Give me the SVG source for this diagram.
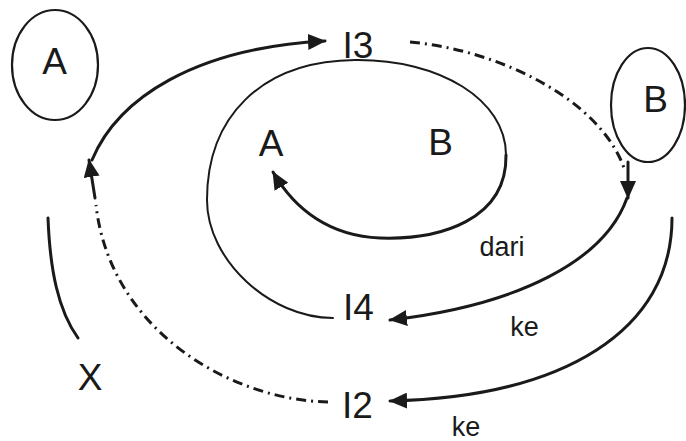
<svg xmlns="http://www.w3.org/2000/svg" width="686" height="441" viewBox="0 0 686 441">
<style>
.t{font-family:"Liberation Sans","DejaVu Sans",sans-serif;fill:#1a1a1a;text-anchor:middle}
.big{font-size:37px}
.sm{font-size:27px}
.ln{fill:none;stroke:#1a1a1a;stroke-linecap:round}
.thin{stroke-width:2}
.thick{stroke-width:3}
.dd{stroke-width:3;stroke-dasharray:10 5 2 5;stroke-linecap:butt}
.node{fill:none;stroke:#1a1a1a;stroke-width:2.2}
</style>
<defs>
<marker id="ah" viewBox="0 0 18 16" refX="17" refY="8" markerWidth="18" markerHeight="16" markerUnits="userSpaceOnUse" orient="auto">
<path d="M0,0 L18,8 L0,16 Z" fill="#1a1a1a"/>
</marker>
</defs>
<rect width="686" height="441" fill="#fff"/>
<g id="nodeA">
<ellipse class="node" cx="55" cy="65" rx="43" ry="55"/>
<text class="t big" x="54.5" y="74">A</text>
</g>
<g id="nodeB">
<ellipse class="node" cx="648" cy="105" rx="37" ry="57"/>
<text class="t big" x="655.5" y="112">B</text>
</g>
<g id="nodeI3"><text class="t big" x="358" y="58">I3</text></g>
<g id="nodeI4"><text class="t big" x="358.5" y="320">I4</text></g>
<g id="nodeI2"><text class="t big" x="357.5" y="418">I2</text></g>
<g id="nodeAin"><text class="t big" x="271" y="156">A</text></g>
<g id="nodeBin"><text class="t big" x="440.5" y="155">B</text></g>
<g id="nodeX"><text class="t big" x="90" y="390">X</text></g>
<g id="labels">
<text class="t sm" x="502" y="256">dari</text>
<text class="t sm" x="524.5" y="336">ke</text>
<text class="t sm" x="466" y="436">ke</text>
</g>
<g id="connectors">
<path class="ln thin" d="M333,318 C270,318 207,260 207,200 C207,118 260,61 355,60 C440,59 506,100 506,155"/>
<path class="ln thick" d="M506,155 C507,220 440,240 380,238 C330,236 295,210 273,172" marker-end="url(#ah)"/>
<path class="ln thick" d="M92,160 C118,98 195,48 325,41" marker-end="url(#ah)"/>
<path class="ln dd" d="M328,402 C230,400 110,330 96,205"/>
<path class="ln thick" d="M95,198 L89,160" marker-end="url(#ah)"/>
<path class="ln dd" d="M410,42 C500,50 600,100 624,168"/>
<path class="ln thick" d="M628,162 L628,198" marker-end="url(#ah)"/>
<path class="ln thick" d="M627,198 C605,260 520,305 390,320" marker-end="url(#ah)"/>
<path class="ln thick" d="M672,218 C672,330 565,397 390,401" marker-end="url(#ah)"/>
<path class="ln thick" d="M48,218 C50,270 58,310 78,338"/>
</g>
</svg>
